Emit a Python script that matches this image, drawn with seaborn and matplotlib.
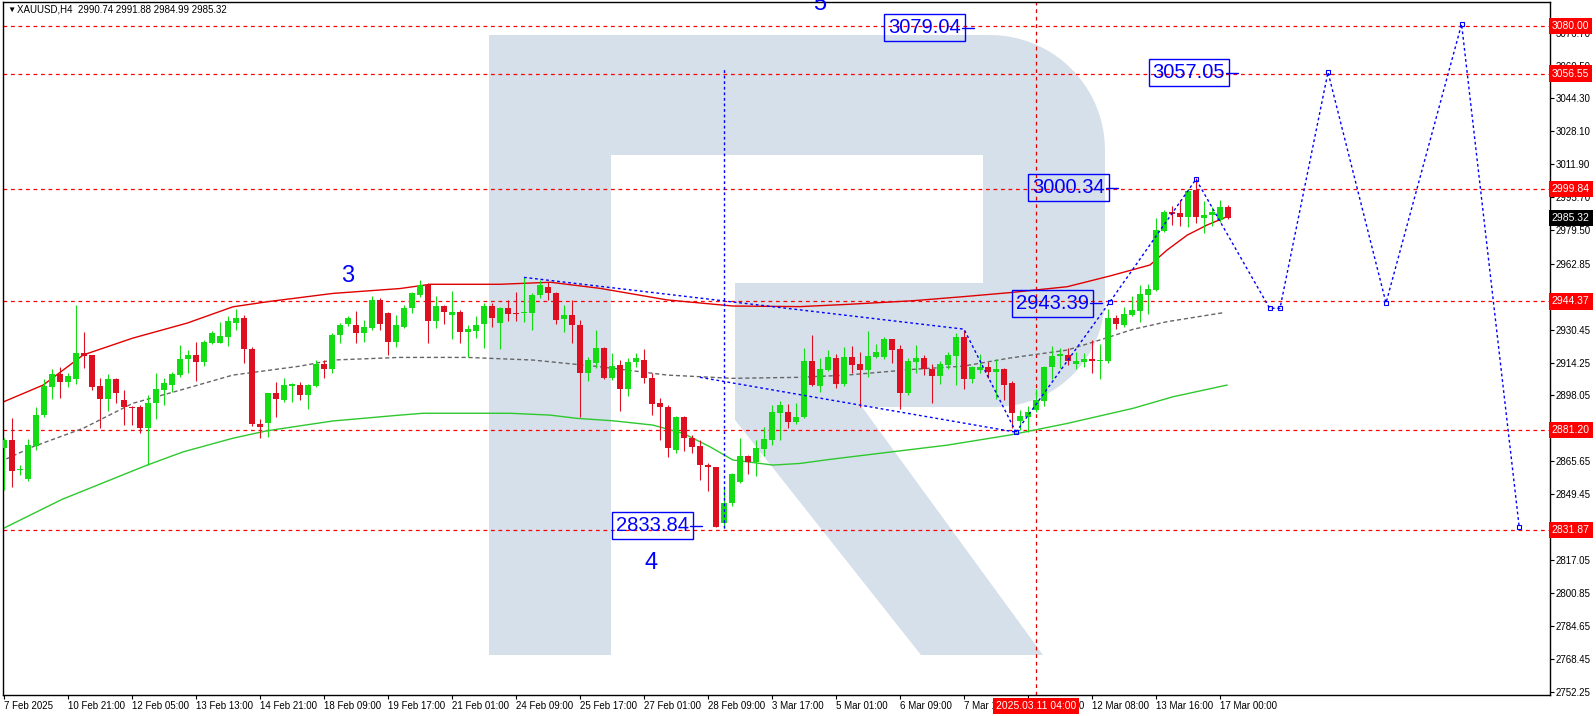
import numpy as np
import matplotlib
matplotlib.use("Agg")
import matplotlib.pyplot as plt
import seaborn as sns
from matplotlib.patches import Polygon
from matplotlib.transforms import Affine2D, blended_transform_factory

# ---------------- data ----------------
opens = [2872.0, 2876.1, 2861.5, 2856.7, 2873.3, 2888.4, 2902.4, 2908.6, 2904.8, 2906.3,
         2918.8, 2917.9, 2902.7, 2896.5, 2906.2, 2895.8, 2892.6, 2892.4, 2882.2, 2894.2,
         2900.7, 2903.2, 2908.1, 2915.8, 2918.0, 2914.7, 2924.0, 2924.0, 2927.0, 2933.9,
         2936.0, 2920.9, 2884.0, 2884.3, 2899.1, 2895.8, 2902.9, 2903.2, 2898.3, 2902.7,
         2913.5, 2911.1, 2927.8, 2933.2, 2932.7, 2928.9, 2931.1, 2945.0, 2938.5, 2924.5,
         2931.9, 2940.9, 2947.5, 2952.4, 2934.7, 2942.1, 2937.7, 2939.3, 2929.4, 2929.6,
         2933.2, 2942.1, 2933.9, 2940.9, 2938.7, 2938.5, 2938.8, 2947.5, 2951.6, 2948.7,
         2935.5, 2937.7, 2932.7, 2909.3, 2913.9, 2921.2, 2906.5, 2913.0, 2901.1, 2914.7,
         2915.5, 2906.5, 2894.2, 2892.5, 2871.2, 2887.6, 2876.9, 2873.2, 2863.8, 2862.7,
         2835.1, 2845.2, 2855.6, 2868.2, 2865.4, 2871.5, 2876.1, 2889.5, 2890.1, 2885.1,
         2887.6, 2915.0, 2902.7, 2910.6, 2916.3, 2903.7, 2916.8, 2913.5, 2910.6, 2917.2,
         2917.2, 2925.7, 2920.8, 2899.1, 2914.7, 2916.3, 2910.9, 2907.6, 2913.0, 2917.5,
         2927.0, 2906.3, 2910.4, 2912.2, 2909.8, 2911.1, 2904.0, 2885.6, 2887.6, 2890.9,
         2895.5, 2911.9, 2917.7, 2918.0, 2913.5, 2914.7, 2915.8, 2915.0, 2915.2, 2936.0,
         2932.7, 2937.7, 2939.8, 2947.5, 2950.0, 2979.2, 2988.5, 2988.0, 2986.1, 2999.2,
         2985.3, 2986.9, 2984.4, 2990.74]
highs = [2877.0, 2886.8, 2864.0, 2876.4, 2892.5, 2906.0, 2911.1, 2911.9, 2908.9, 2942.6,
         2929.1, 2918.2, 2906.5, 2908.4, 2906.8, 2900.7, 2893.0, 2893.3, 2898.1, 2908.9,
         2906.5, 2909.7, 2922.9, 2920.4, 2924.5, 2925.3, 2929.9, 2934.4, 2937.2, 2940.4,
         2937.7, 2921.7, 2886.3, 2899.4, 2904.8, 2906.5, 2904.0, 2904.8, 2903.6, 2915.5,
         2915.5, 2929.0, 2933.9, 2937.2, 2939.6, 2935.2, 2947.0, 2945.9, 2939.3, 2937.7,
         2942.6, 2949.1, 2954.9, 2953.3, 2947.0, 2942.5, 2949.6, 2940.1, 2932.7, 2937.2,
         2943.4, 2943.4, 2941.8, 2945.0, 2949.1, 2956.2, 2948.3, 2954.9, 2954.1, 2949.1,
         2942.6, 2945.0, 2935.2, 2917.1, 2930.3, 2921.7, 2918.8, 2915.5, 2916.3, 2918.8,
         2920.7, 2909.3, 2896.6, 2893.3, 2887.9, 2887.9, 2878.6, 2876.1, 2865.0, 2863.0,
         2853.5, 2859.7, 2876.9, 2868.7, 2876.1, 2882.7, 2893.3, 2895.5, 2893.8, 2894.2,
         2921.2, 2927.8, 2916.3, 2920.4, 2918.5, 2921.7, 2922.4, 2919.6, 2930.0, 2923.4,
         2927.0, 2926.0, 2922.9, 2916.3, 2922.7, 2918.0, 2913.5, 2915.0, 2919.6, 2929.0,
         2930.3, 2912.5, 2918.5, 2914.7, 2915.8, 2911.4, 2905.0, 2890.9, 2892.9, 2901.1,
         2912.5, 2922.4, 2921.2, 2921.2, 2919.6, 2918.8, 2925.3, 2923.4, 2940.4, 2937.7,
         2941.8, 2947.2, 2952.4, 2952.9, 2985.3, 2989.4, 2991.3, 2994.3, 2999.5, 3004.9,
         2993.9, 2990.7, 2994.3, 2991.88]
lows = [2851.5, 2853.1, 2859.0, 2856.1, 2871.2, 2887.6, 2896.1, 2896.6, 2902.4, 2903.5,
        2911.4, 2901.0, 2881.9, 2890.6, 2894.2, 2883.5, 2883.5, 2879.4, 2863.8, 2886.6,
        2893.4, 2899.9, 2907.0, 2908.9, 2905.3, 2912.5, 2923.4, 2923.7, 2922.4, 2930.3,
        2913.9, 2883.0, 2877.0, 2877.4, 2887.6, 2895.0, 2895.0, 2895.8, 2891.4, 2902.4,
        2906.5, 2909.3, 2923.7, 2932.2, 2924.0, 2924.5, 2930.3, 2930.3, 2917.9, 2922.0,
        2931.1, 2938.8, 2946.4, 2924.0, 2931.1, 2933.2, 2925.7, 2924.0, 2916.8, 2926.2,
        2921.6, 2931.9, 2920.9, 2934.9, 2934.7, 2934.4, 2930.3, 2945.9, 2945.0, 2933.2,
        2929.4, 2924.0, 2887.6, 2905.3, 2911.4, 2906.3, 2905.7, 2890.6, 2897.8, 2911.9,
        2904.0, 2888.4, 2876.1, 2867.6, 2869.9, 2870.9, 2869.9, 2856.4, 2851.2, 2833.1,
        2832.6, 2843.6, 2855.1, 2859.4, 2858.4, 2868.2, 2873.6, 2876.1, 2881.9, 2884.0,
        2886.8, 2902.7, 2899.9, 2910.3, 2901.9, 2902.7, 2908.9, 2892.5, 2907.3, 2916.3,
        2915.8, 2914.2, 2891.2, 2898.3, 2908.9, 2908.1, 2894.5, 2903.7, 2910.9, 2903.2,
        2901.2, 2904.4, 2909.3, 2906.9, 2896.1, 2895.8, 2881.9, 2881.0, 2880.2, 2890.1,
        2892.9, 2906.0, 2911.4, 2913.0, 2910.9, 2912.2, 2909.3, 2906.0, 2914.2, 2930.6,
        2931.9, 2937.2, 2934.4, 2938.2, 2949.6, 2978.7, 2982.0, 2981.5, 2980.8, 2983.1,
        2978.2, 2981.5, 2983.6, 2984.99]
closes = [2876.1, 2861.0, 2862.0, 2873.6, 2888.4, 2902.7, 2908.6, 2904.8, 2907.6, 2918.8,
          2917.6, 2902.0, 2896.5, 2906.2, 2899.1, 2892.2, 2891.9, 2882.2, 2894.2, 2901.1,
          2904.0, 2908.6, 2916.0, 2918.0, 2914.7, 2924.5, 2928.9, 2927.3, 2934.7, 2936.0,
          2920.8, 2883.8, 2882.7, 2899.1, 2896.1, 2903.2, 2903.5, 2898.3, 2903.2, 2913.5,
          2911.1, 2927.8, 2932.7, 2936.3, 2928.9, 2931.9, 2945.0, 2933.2, 2924.5, 2932.7,
          2940.9, 2948.3, 2952.4, 2934.7, 2942.1, 2939.3, 2939.3, 2929.4, 2930.7, 2932.7,
          2942.1, 2936.0, 2940.9, 2938.1, 2938.3, 2939.1, 2947.5, 2952.4, 2948.3, 2935.2,
          2937.7, 2932.7, 2908.9, 2915.5, 2921.2, 2906.5, 2912.5, 2901.1, 2914.7, 2916.3,
          2906.5, 2893.8, 2892.2, 2872.0, 2887.6, 2876.9, 2872.8, 2863.8, 2862.7, 2833.4,
          2844.9, 2859.4, 2868.2, 2865.4, 2872.0, 2876.4, 2889.7, 2893.3, 2885.1, 2887.6,
          2915.0, 2903.2, 2910.9, 2916.8, 2903.7, 2916.8, 2913.0, 2910.6, 2917.5, 2919.3,
          2925.7, 2920.4, 2899.1, 2914.8, 2916.3, 2910.9, 2907.6, 2913.5, 2917.9, 2927.0,
          2906.3, 2912.2, 2912.2, 2909.8, 2911.1, 2903.2, 2889.2, 2887.9, 2890.1, 2895.8,
          2912.2, 2917.5, 2918.3, 2915.2, 2915.2, 2915.8, 2915.2, 2915.6, 2936.0, 2933.2,
          2938.1, 2940.1, 2948.0, 2950.3, 2979.5, 2988.5, 2987.4, 2986.1, 2998.9, 2986.1,
          2986.9, 2988.5, 2990.7, 2985.32]

# moving averages (bar index, price)
ma_red_x = [-0.5, 4.9, 9.9, 16.1, 22.9, 28.6, 32.9, 41.1, 49.5, 53.3, 62, 68.3, 74.5, 82.9,
            91.1, 99.5, 105.4, 113.6, 119.9, 125.75, 132.9, 138.25, 143.25, 145.4, 147.9,
            150.4, 152.9]
ma_red_y = [2894.2, 2903.2, 2918.0, 2926.3, 2933.7, 2941.7, 2944.2, 2948.3, 2950.7, 2952.8,
            2952.8, 2953.8, 2950.8, 2945.1, 2942.1, 2941.8, 2942.9, 2944.7, 2946.7, 2948.7,
            2951.6, 2956.9, 2962.3, 2969.7, 2977.0, 2982.0, 2986.1]
ma_gray_x = [-0.5, 3.6, 9.9, 16.1, 22.4, 28.6, 37, 41.1, 49.5, 57.9, 66.1, 74.5, 82.9, 91.1,
             99.5, 105.4, 113.6, 119.9, 125.75, 132.9, 137, 141.1, 145.4, 152.4]
ma_gray_y = [2865.4, 2872.8, 2881.9, 2894.2, 2901.1, 2908.1, 2912.5, 2915.5, 2916.8, 2916.8,
             2915.5, 2912.2, 2908.1, 2906.5, 2907.0, 2908.1, 2910.9, 2912.5, 2916.5, 2920.4,
             2925.4, 2930.6, 2934.4, 2938.8]
ma_green_x = [-0.5, 7.25, 17.9, 22.4, 28.6, 32.9, 41.1, 49.5, 52.4, 63.25, 68.25, 71.6, 76.1,
              81.1, 84.9, 88.25, 91.1, 96.1, 99.5, 103.25, 109.5, 117.9, 125.75, 132.9,
              141.1, 146.1, 152.9]
ma_green_y = [2831.8, 2846.9, 2863.8, 2870.3, 2877.0, 2880.7, 2885.5, 2888.4, 2889.3, 2889.3,
              2888.4, 2886.8, 2885.6, 2883.5, 2879.4, 2872.8, 2866.3, 2863.8, 2864.6, 2866.6,
              2869.6, 2873.6, 2878.6, 2884.3, 2891.7, 2897.4, 2903.2]

# wave / forecast drawings
wave_top_x = [65, 120, 126.5]
wave_top_y = [2956.2, 2930.7, 2880.0]
wave_low_x = [87, 126.5]
wave_low_y = [2907.0, 2880.0]
forecast_x = [126.5, 138.25, 149, 158.2, 159.5, 165.5, 172.75, 182.2, 189.4]
forecast_y = [2880.0, 2944.2, 3004.5, 2941.0, 2941.0, 3057.2, 2943.6, 3080.9, 2833.3]
vline_x = [90, 90]
vline_y = [2832.6, 3060.0]

level_prices = [3080.00, 3056.55, 2999.84, 2944.37, 2881.20, 2831.87]
level_labels = ["3080.00", "3056.55", "2999.84", "2944.37", "2881.20", "2831.87"]

box_texts = ["3079.04", "3057.05", "3000.34", "2943.39", "2833.84"]
box_x = [115.1, 148.1, 133.1, 131.1, 81.1]
box_y = [3079.04, 3057.05, 3000.34, 2943.39, 2833.84]

wave_nums = ["3", "4", "5"]
wave_num_x = [42.9, 80.9, 101.9]
wave_num_y = [2956.9, 2815.5, 3090.8]

ytick_vals = [3076.70, 3060.50, 3044.30, 3028.10, 3011.90, 2995.70, 2979.50, 2962.85,
              2946.65, 2930.45, 2914.25, 2898.05, 2881.85, 2865.65, 2849.45, 2833.25,
              2817.05, 2800.85, 2784.65, 2768.45, 2752.25]
xtick_labels = ["7 Feb 2025", "10 Feb 21:00", "12 Feb 05:00", "13 Feb 13:00", "14 Feb 21:00",
                "18 Feb 09:00", "19 Feb 17:00", "21 Feb 01:00", "24 Feb 09:00", "25 Feb 17:00",
                "27 Feb 01:00", "28 Feb 09:00", "3 Mar 17:00", "5 Mar 01:00", "6 Mar 09:00",
                "7 Mar 17:00", "11 Mar 00:00", "12 Mar 08:00", "13 Mar 16:00", "17 Mar 00:00"]
marker_bar = 129
marker_label = "2025.03.11 04:00"
last_price = 2985.32
title = "XAUUSD,H4  2990.74 2991.88 2984.99 2985.32"

# ---------------- style ----------------
sns.set_style("white")
plt.rcParams['font.family'] = ['Liberation Sans', 'DejaVu Sans']

W, H = 1596, 716
fig = plt.figure(figsize=(W / 100, H / 100), dpi=100)
L, R, T, B = 3, 1550, 2, 695
ax = fig.add_axes([L / W, 1 - B / H, (R - L) / W, (B - T) / H])
ax.set_facecolor("white")

# background logo (decoration, in pixel space)
pix = Affine2D().scale(1, -1).translate(0, H)
logo_col = "#d6e0eb"
def arc(cx, cy, r, a0, a1, n=20):
    a = np.radians(np.linspace(a0, a1, n))
    return [(cx + r * np.cos(t), cy - r * np.sin(t)) for t in a]
stem = [(489, 35), (611, 35), (611, 655), (489, 655)]
bowl = [(489, 35)] + arc(990, 150, 115, 90, 0) + arc(995, 297, 110, 0, -90) + \
       [(735, 407), (735, 283), (983, 283), (983, 155), (489, 155)]
leg = [(735, 407), (862, 407), (1043, 655), (921, 655), (735, 420)]
for shape in (stem, bowl, leg):
    p = Polygon(shape, closed=True, transform=pix, fc=logo_col, ec="none", zorder=0.2)
    p.set_clip_path(ax.patch)
    ax.add_patch(p)

# levels
for lv in level_prices:
    ax.axhline(lv, color="#ff0000", lw=0.9, ls=(0, (3, 3)), zorder=1)
ax.axvline(marker_bar, color="#e00000", lw=0.9, ls=(0, (3, 3)), zorder=1)

# moving averages
sns.lineplot(x=ma_green_x, y=ma_green_y, ax=ax, color="#2ec82e", lw=1, estimator=None, sort=False, zorder=2)
sns.lineplot(x=ma_gray_x, y=ma_gray_y, ax=ax, color="#666666", lw=1, estimator=None, sort=False,
             linestyle=(0, (3, 2)), zorder=2)
sns.lineplot(x=ma_red_x, y=ma_red_y, ax=ax, color="#e00000", lw=1, estimator=None, sort=False, zorder=2)

# candles
idx = np.arange(len(opens))
o = np.array(opens); c = np.array(closes); hi = np.array(highs); lo = np.array(lows)
up = c >= o
bull, bear = "#14dc14", "#dc1020"
cols = np.where(up, bull, bear)
ax.vlines(idx, lo, hi, colors=cols, lw=0.8, zorder=3)
body_b = np.minimum(o, c)
body_h = np.maximum(np.abs(c - o), 0.5)
ax.bar(idx, body_h, bottom=body_b, width=0.7, color=cols, edgecolor="none", zorder=4)

# blue wave lines
blue = "#0000ff"
for xs, ys in ((wave_top_x, wave_top_y), (wave_low_x, wave_low_y), (forecast_x, forecast_y),
               (vline_x, vline_y)):
    ax.plot(xs, ys, color=blue, lw=1, ls=(0, (2, 2)), zorder=5)
ax.plot(forecast_x, forecast_y, ls="none", marker="s", ms=3, mfc="none", mec=blue, mew=0.8, zorder=5)

# boxed price labels
for t, bx, by in zip(box_texts, box_x, box_y):
    ax.text(bx, by, t, color=blue, fontsize=14.5, ha="center", va="center", zorder=6,
            bbox=dict(boxstyle="square,pad=0.2", fc="none", ec=blue, lw=1))
    ax.plot([bx + 4.7, bx + 6.2], [by, by], color=blue, lw=1, zorder=6)

for t, wx, wy in zip(wave_nums, wave_num_x, wave_num_y):
    ax.text(wx, wy, t, color=blue, fontsize=17, ha="center", va="center", zorder=6)

# axes
ax.set_xlim(-0.125, 193.25)
ax.set_ylim(2750.6, 3091.77)
ax.yaxis.tick_right()
ax.set_yticks(ytick_vals)
ax.set_yticklabels([f"{v:.2f}" for v in ytick_vals])
ax.set_xticks(np.arange(len(xtick_labels)) * 8)
ax.set_xticklabels(xtick_labels, ha="left")
ax.tick_params(axis="both", which="both", direction="out", length=3, width=0.8, pad=1,
               labelsize=7, colors="black")
ax.tick_params(axis="y", left=False, right=True)
ax.tick_params(axis="x", bottom=True)
for s in ax.spines.values():
    s.set_color("black"); s.set_linewidth(1)
ax.set_xlabel(""); ax.set_ylabel("")

# right axis labels
yt = blended_transform_factory(ax.transAxes, ax.transData)
for lv, lab in zip(level_prices, level_labels):
    ax.text(1.0012, lv, lab, transform=yt, color="white", fontsize=7.5, ha="left", va="center",
            clip_on=False, zorder=10,
            bbox=dict(boxstyle="square,pad=0.3", fc="#ff0000", ec="none"))
ax.text(1.0012, last_price, f"{last_price:.2f}", transform=yt, color="white", fontsize=7.5,
        ha="left", va="center", clip_on=False, zorder=10,
        bbox=dict(boxstyle="square,pad=0.3", fc="black", ec="none"))
xt = blended_transform_factory(ax.transData, ax.transAxes)
ax.text(marker_bar, -0.016, marker_label, transform=xt, color="white", fontsize=7.5, ha="center",
        va="center", clip_on=False, zorder=10,
        bbox=dict(boxstyle="square,pad=0.3", fc="#ff0000", ec="none"))

fig.text(7 / W, 1 - 10 / H, "\u25BC", fontsize=6, va="center", ha="left", color="black")
fig.text(17 / W, 1 - 10 / H, title, fontsize=7, va="center", ha="left", color="black")

fig.savefig("out.png", dpi=100)
